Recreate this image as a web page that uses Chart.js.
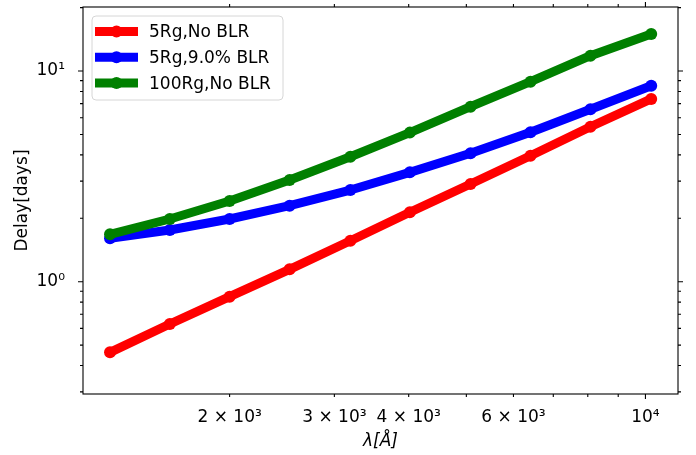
<!DOCTYPE html>
<html>
<head>
<meta charset="utf-8">
<script src="https://cdn.jsdelivr.net/npm/chart.js@4/dist/chart.umd.min.js"></script>
<style>
  html, body { margin: 0; padding: 0; background: #fff; }
</style>
</head>
<body>
<canvas id="delay_chart" width="696" height="455"></canvas>
<script>
// wavelength (Angstrom) and delays (days)
const wavelengths = [1259, 1587, 2000, 2523, 3192, 4018, 5082, 6409, 8083, 10226];
const delay_5rg_noblr = [0.462, 0.630, 0.849, 1.145, 1.565, 2.135, 2.910, 3.963, 5.44, 7.37];
const delay_5rg_blr = [1.607, 1.759, 1.984, 2.295, 2.723, 3.304, 4.07, 5.12, 6.58, 8.51];
const delay_100rg_noblr = [1.679, 1.984, 2.415, 3.039, 3.92, 5.10, 6.77, 8.90, 11.82, 14.98];
const series_labels = ['5Rg,No BLR', '5Rg,9.0% BLR', '100Rg,No BLR'];
const series_colors = ['#ff0000', '#0000ff', '#008000'];

// tick labels
const x_tick_values = [2000, 3000, 4000, 6000, 10000];
const x_tick_labels = ['2 × 10³', '3 × 10³', '4 × 10³', '6 × 10³', '10⁴'];
const y_tick_values = [1, 10];
const y_tick_labels = ['10⁰', '10¹'];

// tick marks (major / minor) on all four sides
const x_major_marks = [10000];
const x_minor_marks = [2000, 3000, 4000, 5000, 6000, 7000, 8000, 9000];
const y_major_marks = [1, 10];
const y_minor_marks = [0.3, 0.4, 0.5, 0.6, 0.7, 0.8, 0.9, 2, 3, 4, 5, 6, 7, 8, 9, 20];

const FONT = 'DejaVu Sans';

function toPoints(vals) {
    return wavelengths.map((w, i) => ({ x: w, y: vals[i] }));
}

function makeSet(idx, vals, order) {
    return {
        label: series_labels[idx],
        data: toPoints(vals),
        borderColor: series_colors[idx],
        backgroundColor: series_colors[idx],
        pointBackgroundColor: series_colors[idx],
        borderWidth: 9,
        pointRadius: 6,
        pointBorderWidth: 0,
        borderJoinStyle: 'round',
        tension: 0,
        order: order
    };
}

// frame and tick marks
const framePlugin = {
    id: 'frameTicks',
    afterDatasetsDraw(chart) {
        const ctx = chart.ctx;
        const a = chart.chartArea;
        const xs = chart.scales.x;
        const ys = chart.scales.y;
        ctx.save();
        ctx.strokeStyle = '#000';
        ctx.lineWidth = 1.1;
        ctx.strokeRect(a.left, a.top, a.right - a.left, a.bottom - a.top);

        function xMarks(list, len) {
            list.forEach(v => {
                const px = xs.getPixelForValue(v);
                ctx.beginPath();
                ctx.moveTo(px, a.bottom); ctx.lineTo(px, a.bottom + len);
                ctx.moveTo(px, a.top); ctx.lineTo(px, a.top - len);
                ctx.stroke();
            });
        }
        function yMarks(list, len) {
            list.forEach(v => {
                const py = ys.getPixelForValue(v);
                if (py < a.top - 0.5 || py > a.bottom + 0.5) return;
                ctx.beginPath();
                ctx.moveTo(a.left, py); ctx.lineTo(a.left - len, py);
                ctx.moveTo(a.right, py); ctx.lineTo(a.right + len, py);
                ctx.stroke();
            });
        }
        xMarks(x_major_marks, 5);
        xMarks(x_minor_marks, 3);
        yMarks(y_major_marks, 5);
        yMarks(y_minor_marks, 3);
        ctx.restore();
    }
};

// legend box in the upper left corner
const legendPlugin = {
    id: 'boxLegend',
    afterDraw(chart) {
        const ctx = chart.ctx;
        const a = chart.chartArea;
        const bx = a.left + 9, by = a.top + 9, bw = 191, bh = 84, r = 4;
        ctx.save();
        ctx.beginPath();
        ctx.roundRect(bx, by, bw, bh, r);
        ctx.fillStyle = 'rgba(255,255,255,0.8)';
        ctx.fill();
        ctx.strokeStyle = '#d6d6d6';
        ctx.lineWidth = 1;
        ctx.stroke();

        ctx.font = '17px "' + FONT + '"';
        ctx.textBaseline = 'middle';
        ctx.textAlign = 'left';
        chart.data.datasets.forEach((ds, i) => {
            const cy = by + 15.5 + i * 25.8;
            ctx.strokeStyle = ds.borderColor;
            ctx.lineWidth = 9;
            ctx.beginPath();
            ctx.moveTo(bx + 3, cy);
            ctx.lineTo(bx + 46, cy);
            ctx.stroke();
            ctx.fillStyle = ds.borderColor;
            ctx.beginPath();
            ctx.arc(bx + 24.5, cy, 6, 0, Math.PI * 2);
            ctx.fill();
            ctx.fillStyle = '#000';
            ctx.fillText(ds.label, bx + 57, cy + 1);
        });
        ctx.restore();
    }
};

const ctx = document.getElementById('delay_chart').getContext('2d');
const delayChart = new Chart(ctx, {
    type: 'line',
    data: {
        datasets: [
            makeSet(0, delay_5rg_noblr, 2),
            makeSet(1, delay_5rg_blr, 1),
            makeSet(2, delay_100rg_noblr, 0)
        ]
    },
    options: {
        responsive: false,
        devicePixelRatio: 1,
        animation: false,
        layout: { padding: { left: 0, right: 18, top: 7, bottom: 0 } },
        plugins: {
            legend: { display: false },
            tooltip: { enabled: false }
        },
        scales: {
            x: {
                type: 'logarithmic',
                min: 1134,
                max: 11343,
                afterBuildTicks: s => { s.ticks = x_tick_values.map(v => ({ value: v })); },
                afterFit: s => { s.height = 61; s.paddingLeft = 0; s.paddingRight = 0; },
                grid: { display: false },
                border: { display: false },
                ticks: {
                    autoSkip: false,
                    maxRotation: 0,
                    padding: 5,
                    color: '#000',
                    font: { family: FONT, size: 17 },
                    callback: (v, i) => x_tick_labels[i]
                },
                title: {
                    display: true,
                    text: 'λ[Å]',
                    color: '#000',
                    font: { family: FONT, size: 17, style: 'italic' },
                    padding: { top: 0, bottom: 3 }
                }
            },
            y: {
                type: 'logarithmic',
                min: 0.293,
                max: 20.13,
                afterBuildTicks: s => { s.ticks = y_tick_values.map(v => ({ value: v })); },
                afterFit: s => { s.width = 83; s.paddingTop = 0; s.paddingBottom = 0; },
                grid: { display: false },
                border: { display: false },
                ticks: {
                    autoSkip: false,
                    padding: 10,
                    color: '#000',
                    font: { family: FONT, size: 17 },
                    callback: (v, i) => y_tick_labels[i]
                },
                title: {
                    display: true,
                    text: 'Delay[days]',
                    color: '#000',
                    font: { family: FONT, size: 17 },
                    padding: { top: 12, bottom: 0 }
                }
            }
        }
    },
    plugins: [framePlugin, legendPlugin]
});
</script>
</body>
</html>
